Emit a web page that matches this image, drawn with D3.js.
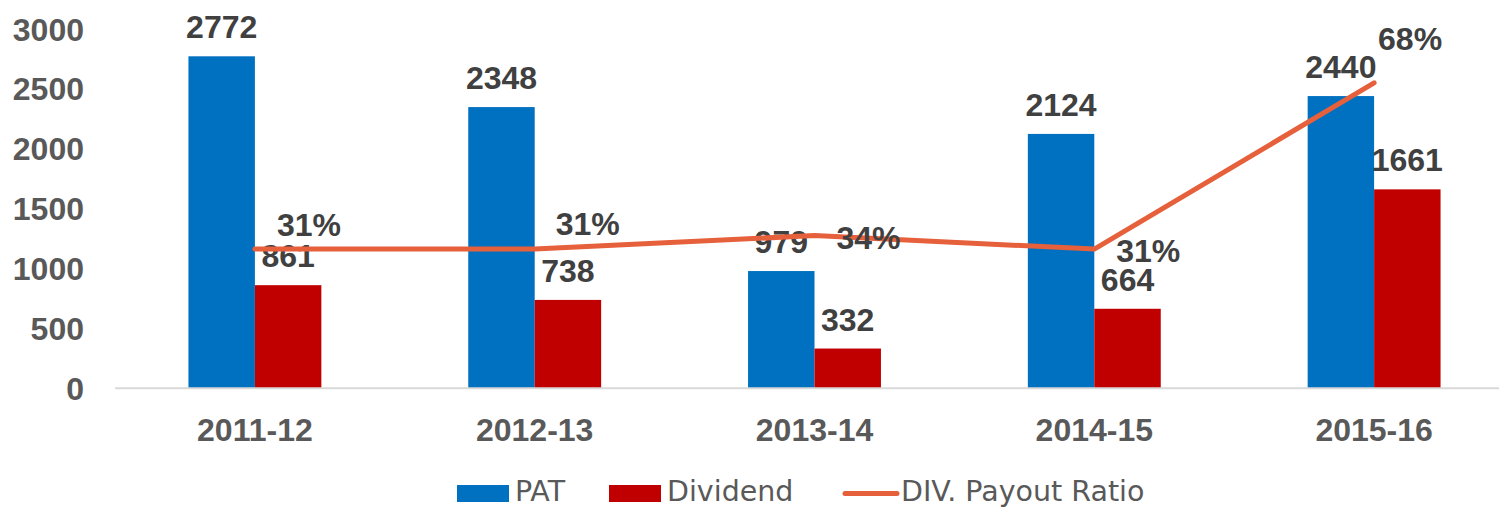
<!DOCTYPE html>
<html>
<head>
<meta charset="utf-8">
<script src="https://cdn.jsdelivr.net/npm/d3@7"></script>
<style>
  body { margin: 0; background: #fff; }
  svg { display: block; }
</style>
</head>
<body>
<div id="chart"></div>
<script>
(function () {
    'use strict'

    // data
    var years = ['2011-12', '2012-13', '2013-14', '2014-15', '2015-16']
    var pat = [2772, 2348, 979, 2124, 2440]
    var dividend = [861, 738, 332, 664, 1661]
    var payout = [0.31, 0.31, 0.34, 0.31, 0.68]
    var yTicks = [0, 500, 1000, 1500, 2000, 2500, 3000]

    // label nudges for the payout ratio labels (dx, dy from the point)
    var pctNudge = [[54, -25], [53, -26], [54, 2], [54, 1], [36, -44]]

    var width = 1499, height = 508
    var left = 115, right = 1514, top = 29, base = 388.3

    var blue = '#0070C0', red = '#C00000', orange = '#E5603B'
    var boldFont = '"Liberation Sans", Arial, sans-serif'

    var svg = d3.select('#chart').append('svg')
        .attr('width', width)
        .attr('height', height)

    var x = d3.scaleBand().domain(years).range([left, right])
    var step = x.step()
    var sub = d3.scaleBand().domain(['PAT', 'Dividend'])
        .range([step * 0.2625, step * 0.7375])
    var y = d3.scaleLinear().domain([0, 3000]).range([base, top])
    var y2 = d3.scaleLinear().domain([0, 0.8]).range([base, top])

    // y tick labels
    svg.append('g').selectAll('text')
        .data(yTicks).enter()
        .append('text')
        .attr('x', 84)
        .attr('y', function (d) { return y(d) })
        .attr('dy', '0.36em')
        .attr('text-anchor', 'end')
        .style('font-family', boldFont)
        .style('font-weight', 'bold')
        .style('font-size', '32px')
        .style('fill', '#595959')
        .text(function (d) { return d })

    // bars
    var series = [
        { key: 'PAT', values: pat, color: blue },
        { key: 'Dividend', values: dividend, color: red }
    ]

    series.forEach(function (s) {
        var g = svg.append('g')
        g.selectAll('rect')
            .data(s.values).enter()
            .append('rect')
            .attr('x', function (d, i) { return x(years[i]) + sub(s.key) })
            .attr('y', function (d) { return y(d) })
            .attr('width', sub.bandwidth())
            .attr('height', function (d) { return base - y(d) })
            .style('fill', s.color)

        g.selectAll('text')
            .data(s.values).enter()
            .append('text')
            .attr('x', function (d, i) { return x(years[i]) + sub(s.key) + sub.bandwidth() / 2 })
            .attr('y', function (d) { return y(d) - 18 })
            .attr('text-anchor', 'middle')
            .style('font-family', boldFont)
            .style('font-weight', 'bold')
            .style('font-size', '32px')
            .style('fill', '#404040')
            .text(function (d) { return d })
    })

    // axis line
    svg.append('line')
        .attr('x1', left).attr('x2', right)
        .attr('y1', base).attr('y2', base)
        .style('stroke', '#d9d9d9')
        .style('stroke-width', 2)

    // category labels
    svg.append('g').selectAll('text')
        .data(years).enter()
        .append('text')
        .attr('x', function (d) { return x(d) + step / 2 })
        .attr('y', base + 53)
        .attr('text-anchor', 'middle')
        .style('font-family', boldFont)
        .style('font-weight', 'bold')
        .style('font-size', '32px')
        .style('fill', '#595959')
        .text(function (d) { return d })

    // payout ratio line
    var line = d3.line()
        .x(function (d, i) { return x(years[i]) + step / 2 })
        .y(function (d) { return y2(d) })

    svg.append('path')
        .datum(payout)
        .attr('d', line)
        .style('fill', 'none')
        .style('stroke', orange)
        .style('stroke-width', 5)
        .style('stroke-linecap', 'round')
        .style('stroke-linejoin', 'round')

    svg.append('g').selectAll('text')
        .data(payout).enter()
        .append('text')
        .attr('x', function (d, i) { return x(years[i]) + step / 2 + pctNudge[i][0] })
        .attr('y', function (d, i) { return y2(d) + pctNudge[i][1] })
        .attr('dy', '0.36em')
        .attr('text-anchor', 'middle')
        .style('font-family', boldFont)
        .style('font-weight', 'bold')
        .style('font-size', '32px')
        .style('fill', '#404040')
        .text(function (d) { return Math.round(d * 100) + '%' })

    // legend
    var legendFont = '"DejaVu Sans", sans-serif'
    var legend = svg.append('g')
    var items = [
        { label: 'PAT', color: blue, kind: 'rect', x: 457 },
        { label: 'Dividend', color: red, kind: 'rect', x: 609 },
        { label: 'DIV. Payout Ratio', color: orange, kind: 'line', x: 843 }
    ]
    items.forEach(function (it) {
        if (it.kind === 'rect') {
            legend.append('rect')
                .attr('x', it.x).attr('y', 485)
                .attr('width', 52).attr('height', 17)
                .style('fill', it.color)
        } else {
            legend.append('line')
                .attr('x1', it.x + 2).attr('x2', it.x + 54)
                .attr('y1', 493.5).attr('y2', 493.5)
                .style('stroke', it.color)
                .style('stroke-width', 5)
                .style('stroke-linecap', 'round')
        }
        legend.append('text')
            .attr('x', it.x + 58)
            .attr('y', 501)
            .style('font-family', legendFont)
            .style('font-size', '28.5px')
            .style('fill', '#595959')
            .text(it.label)
    })
})()
</script>
</body>
</html>
